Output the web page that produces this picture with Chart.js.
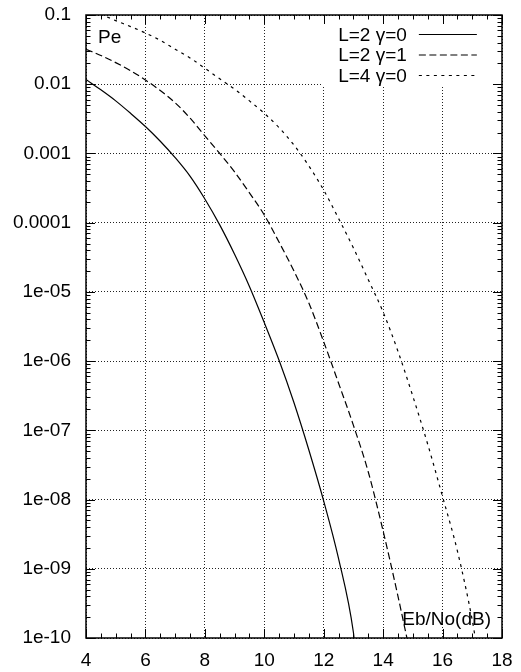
<!DOCTYPE html>
<html>
<head>
<meta charset="utf-8">
<script src="https://cdn.jsdelivr.net/npm/chart.js@4.4.1/dist/chart.umd.min.js"></script>
<style>
  html, body { margin: 0; padding: 0; background: #fff; }
</style>
</head>
<body>
<canvas id="chart" width="521" height="672"></canvas>
<script>
const FONT = '"Liberation Sans", Arial, sans-serif';

// axis ticks
const xTicks = [4, 6, 8, 10, 12, 14, 16, 18];
const yTicks = [1e-10, 1e-9, 1e-8, 1e-7, 1e-6, 1e-5, 1e-4, 1e-3, 1e-2, 1e-1];
const yTickLabels = ["1e-10", "1e-09", "1e-08", "1e-07", "1e-06", "1e-05", "0.0001", "0.001", "0.01", "0.1"];

// L=2 gamma=0 (solid)
const ebnoA = [4, 4.5, 5, 5.5, 6, 6.5, 7, 7.5, 8, 8.5, 9, 9.5, 10, 10.5, 11, 11.5, 12, 12.5, 13, 13.02];
const peA = [1.17e-2, 8.3e-3, 5.75e-3, 3.8e-3, 2.45e-3, 1.5e-3, 8.7e-4, 4.7e-4, 2.2e-4, 9.3e-5,
  3.5e-5, 1.2e-5, 3.6e-6, 1.02e-6, 2.5e-7, 5.2e-8, 9.5e-9, 1.4e-9, 1.2e-10, 1e-10];

// L=2 gamma=1 (dashed)
const ebnoB = [4, 4.5, 5, 5.5, 6, 6.5, 7, 7.5, 8, 8.5, 9, 9.5, 10, 10.5, 11, 11.5, 12, 12.5, 13, 13.5, 14, 14.5, 14.8];
const peB = [3.2e-2, 2.6e-2, 2.05e-2, 1.57e-2, 1.15e-2, 8.1e-3, 5.4e-3, 3.25e-3, 1.8e-3, 1.0e-3,
  5.4e-4, 2.7e-4, 1.29e-4, 5.2e-5, 2.0e-5, 6.9e-6, 1.9e-6, 4.8e-7, 1.18e-7, 2.5e-8, 3.5e-9, 4.0e-10, 1e-10];

// L=4 gamma=0 (dotted)
const ebnoC = [4, 4.5, 5, 5.5, 6, 6.5, 7, 7.5, 8, 8.5, 9, 9.5, 10, 10.5, 11, 11.5, 12, 12.5, 13, 13.5,
  14, 14.5, 15, 15.5, 16, 16.5, 17, 17.1];
const peC = [0.12, 0.102, 8.3e-2, 6.8e-2, 5.5e-2, 4.3e-2, 3.2e-2, 2.4e-2, 1.7e-2, 1.2e-2,
  8.5e-3, 5.75e-3, 3.8e-3, 2.35e-3, 1.32e-3, 6.6e-4, 2.95e-4, 1.15e-4, 4.3e-5, 1.5e-5,
  5.1e-6, 1.38e-6, 3.1e-7, 6.3e-8, 1.1e-8, 1.8e-9, 1.8e-10, 1e-10];

const labels = ["L=2 \u03b3=0", "L=2 \u03b3=1", "L=4 \u03b3=0"];

function pts(xs, ys) {
  return xs.map((x, i) => ({ x: x, y: ys[i] }));
}

function series(label, xs, ys, dash) {
  return {
    label: label,
    data: pts(xs, ys),
    borderColor: "#000",
    borderWidth: 1.2,
    borderDash: dash,
    pointRadius: 0,
    fill: false,
    cubicInterpolationMode: "monotone",
  };
}

// gnuplot-like frame: border, inward ticks, key, labels
const gnuplotFrame = {
  id: "gnuplotFrame",
  beforeDatasetsDraw(chart) {
    // key box hides the grid behind it
    const { ctx, chartArea } = chart;
    const xs = chart.scales.x, ys = chart.scales.y;
    const left = xs.getPixelForValue(12) - 1.5;
    const bottom = ys.getPixelForValue(0.01) + 1.5;
    ctx.save();
    ctx.fillStyle = "#fff";
    ctx.fillRect(left, chartArea.top + 1, chartArea.right - left - 1, bottom - chartArea.top - 1);
    ctx.restore();
  },
  afterDraw(chart) {
    const { ctx, chartArea } = chart;
    const xs = chart.scales.x, ys = chart.scales.y;
    const { left, right, top, bottom } = chartArea;
    ctx.save();
    ctx.strokeStyle = "#000";
    ctx.lineWidth = 1;
    ctx.setLineDash([]);

    // x ticks, major every 2, minor every 0.5
    for (let v = 4; v <= 18.001; v += 0.5) {
      const px = Math.round(xs.getPixelForValue(v)) + 0.5;
      const len = Math.abs(v % 2) < 1e-6 ? 9 : 4.5;
      ctx.beginPath();
      ctx.moveTo(px, bottom); ctx.lineTo(px, bottom - len);
      ctx.moveTo(px, top); ctx.lineTo(px, top + len);
      ctx.stroke();
    }
    // y ticks, major decades, minor 2..9
    for (let e = -10; e <= -1; e++) {
      for (let m = 1; m <= 9; m++) {
        const v = m * Math.pow(10, e);
        if (v > 0.1 * 1.0001) break;
        const py = Math.round(ys.getPixelForValue(v)) + 0.5;
        const len = m === 1 ? 9 : 4.5;
        ctx.beginPath();
        ctx.moveTo(left, py); ctx.lineTo(left + len, py);
        ctx.moveTo(right, py); ctx.lineTo(right - len, py);
        ctx.stroke();
      }
    }

    // border
    ctx.lineWidth = 1.5;
    ctx.strokeRect(left, top, right - left, bottom - top);

    // labels
    ctx.fillStyle = "#000";
    ctx.font = "19px " + FONT;
    ctx.textBaseline = "alphabetic";
    ctx.textAlign = "left";
    ctx.fillText("Pe", left + 12, top + 28);
    ctx.textAlign = "right";
    ctx.fillText("Eb/No(dB)", right - 11, bottom - 13);

    // key
    const textRight = xs.getPixelForValue(15.0) - 6;
    const lineStart = textRight + 12;
    const lineEnd = lineStart + 58;
    chart.data.datasets.forEach((ds, i) => {
      const y = top + 19.5 + i * 20.5;
      ctx.textBaseline = "middle";
      ctx.textAlign = "right";
      ctx.fillText(ds.label, textRight, y + 1);
      ctx.lineWidth = ds.borderWidth;
      ctx.setLineDash(ds.borderDash || []);
      ctx.beginPath();
      ctx.moveTo(lineStart, y); ctx.lineTo(lineEnd, y);
      ctx.stroke();
    });
    ctx.restore();
  },
};

new Chart(document.getElementById("chart"), {
  type: "line",
  data: {
    datasets: [
      series(labels[0], ebnoA, peA, []),
      series(labels[1], ebnoB, peB, [7, 3.5]),
      series(labels[2], ebnoC, peC, [3, 4.5]),
    ],
  },
  options: {
    responsive: false,
    animation: false,
    devicePixelRatio: 1,
    layout: { padding: { top: 15, right: 19, left: 0, bottom: 0 } },
    plugins: { legend: { display: false }, tooltip: { enabled: false } },
    scales: {
      x: {
        type: "linear",
        min: 4,
        max: 18,
        afterBuildTicks: (s) => { s.ticks = xTicks.map((v) => ({ value: v })); },
        afterFit: (s) => { s.height = 34; s.paddingLeft = 0; s.paddingRight = 0; },
        ticks: { color: "#000", font: { family: FONT, size: 19 }, padding: 11, maxRotation: 0 },
        grid: { color: "#222", lineWidth: 1, drawTicks: false },
        border: { display: false, dash: [1, 2] },
      },
      y: {
        type: "logarithmic",
        min: 1e-10,
        max: 0.1,
        afterBuildTicks: (s) => { s.ticks = yTicks.map((v) => ({ value: v })); },
        afterFit: (s) => { s.width = 86; s.paddingTop = 0; s.paddingBottom = 0; },
        ticks: {
          color: "#000",
          font: { family: FONT, size: 19 },
          padding: 15,
          callback: (v, i) => yTickLabels[i],
        },
        grid: { color: "#222", lineWidth: 1, drawTicks: false },
        border: { display: false, dash: [1, 2] },
      },
    },
  },
  plugins: [gnuplotFrame],
});
</script>
</body>
</html>
